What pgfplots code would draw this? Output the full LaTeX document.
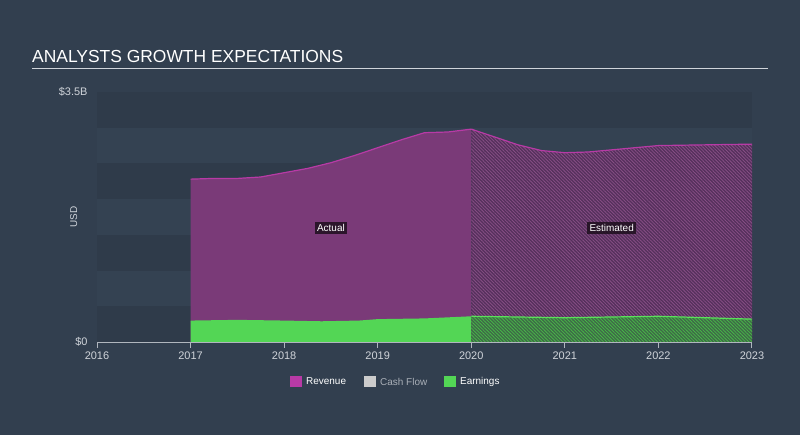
\documentclass[border=0pt]{standalone}
\usepackage{fontspec}
\setmainfont{Liberation Sans}
\usepackage{pgfplots}
\pgfplotsset{compat=1.18}
\usetikzlibrary{patterns.meta}

\definecolor{bg}{HTML}{323F4F}
\definecolor{bandD}{HTML}{2F3B4A}
\definecolor{bandL}{HTML}{344252}
\definecolor{txt}{HTML}{D0D4DA}
\definecolor{revline}{HTML}{B83AA6}
\definecolor{revfill}{HTML}{7A3A78}
\definecolor{revdark}{HTML}{55305C}
\definecolor{earnline}{HTML}{5BE05B}
\definecolor{earnfill}{HTML}{53D655}
\definecolor{earndark}{HTML}{3E6A47}
\definecolor{cashgray}{HTML}{CCCCCC}

\pgfplotstableread{
x      y
2017   2.28
2017.25 2.29
2017.5 2.29
2017.75 2.31
2018   2.37
2018.25 2.43
2018.5 2.51
2018.75 2.61
2019   2.72
2019.25 2.83
2019.5 2.93
2019.75 2.94
2020   2.98
}\revact
\pgfplotstableread{
x      y
2020   2.98
2020.25 2.87
2020.5 2.76
2020.75 2.68
2021   2.65
2021.25 2.66
2021.5 2.69
2021.75 2.72
2022   2.75
2022.5 2.76
2023   2.77
}\revest
\pgfplotstableread{
x      y
2017   0.30
2017.5 0.31
2018   0.30
2018.4 0.29
2018.8 0.30
2019   0.32
2019.5 0.33
2020   0.36
}\earnact
\pgfplotstableread{
x      y
2020   0.36
2020.5 0.35
2021   0.34
2021.5 0.35
2022   0.36
2022.5 0.34
2023   0.32
}\earnest

\begin{document}
\begin{tikzpicture}[x=1bp,y=1bp]
  \fill[bg] (0,0) rectangle (800,435);
  % title and rule
  \node[anchor=base west, text=white, font=\fontsize{17.5}{17.5}\selectfont, inner sep=0] at (32,372) {ANALYSTS GROWTH EXPECTATIONS};
  \draw[txt, line width=0.8pt] (32,367) -- (768,367);

  \begin{axis}[
      at={(97bp,93bp)}, anchor=origin,
      scale only axis,
      width=655bp, height=250bp,
      xmin=2016, xmax=2023,
      ymin=0, ymax=3.5,
      axis x line*=bottom,
      axis y line*=left,
      x axis line style={draw=txt!80!bg, line width=0.9pt, -},
      y axis line style={draw=none},
      xtick={2016,...,2023},
      xticklabels={2016,2017,2018,2019,2020,2021,2022,2023},
      ytick={0,3.5},
      yticklabels={\$0,\$3.5B},
      xtick style={draw=txt!80!bg, line width=0.9pt},
      ytick style={draw=none},
      tick align=outside,
      major tick length=6bp,
      x tick label style={text=txt, font=\fontsize{11}{11}\selectfont},
      y tick label style={text=txt, font=\fontsize{11}{11}\selectfont},
      ylabel={USD},
      ylabel style={text=txt, font=\fontsize{10}{10}\selectfont, at={(axis description cs:-0.025,0.5)}},
      axis on top,
      clip=false,
    ]
    % background bands
    \fill[bandD] (axis cs:2016,0) rectangle (axis cs:2023,0.5);
    \fill[bandL] (axis cs:2016,0.5) rectangle (axis cs:2023,1.0);
    \fill[bandD] (axis cs:2016,1.0) rectangle (axis cs:2023,1.5);
    \fill[bandL] (axis cs:2016,1.5) rectangle (axis cs:2023,2.0);
    \fill[bandD] (axis cs:2016,2.0) rectangle (axis cs:2023,2.5);
    \fill[bandL] (axis cs:2016,2.5) rectangle (axis cs:2023,3.0);
    \fill[bandD] (axis cs:2016,3.0) rectangle (axis cs:2023,3.5);

    % revenue actual
    \addplot[draw=none, fill=revfill] table {\revact} \closedcycle;
    \addplot[revline, line width=1.2pt] table {\revact};
    % revenue estimated
    \addplot[draw=none, fill=revdark] table {\revest} \closedcycle;
    \addplot[draw=none, pattern={Lines[angle=-45,distance=2.4pt,line width=0.8pt]}, pattern color=revfill!90!white] table {\revest} \closedcycle;
    \addplot[revline, line width=1.2pt] table {\revest};

    % earnings actual
    \addplot[draw=none, fill=earnfill] table {\earnact} \closedcycle;
    % earnings estimated
    \addplot[draw=none, fill=earndark] table {\earnest} \closedcycle;
    \addplot[draw=none, pattern={Lines[angle=-45,distance=2.4pt,line width=0.8pt]}, pattern color=earnfill!85!black] table {\earnest} \closedcycle;
    \addplot[earnline, line width=1.2pt] table {\earnest};

    % labels
    \node[fill=black!80!revfill, fill opacity=0.8, text opacity=1, text=white, font=\fontsize{10}{10}\selectfont, inner sep=2.5pt] at (axis cs:2018.5,1.6) {Actual};
    \node[fill=black!80!revfill, fill opacity=0.8, text opacity=1, text=white, font=\fontsize{10}{10}\selectfont, inner sep=2.5pt] at (axis cs:2021.5,1.6) {Estimated};
  \end{axis}

  % legend
  \begin{scope}[font=\fontsize{10}{10}\selectfont]
    \fill[revline] (290,48) rectangle (302,59);
    \node[anchor=west, text=white, inner sep=0] at (306,53.5) {Revenue};
    \fill[cashgray] (364,48) rectangle (376,59);
    \node[anchor=west, text=txt!75!bg, inner sep=0] at (380,53.5) {Cash Flow};
    \fill[earnfill] (444,48) rectangle (456,59);
    \node[anchor=west, text=white, inner sep=0] at (460,53.5) {Earnings};
  \end{scope}
\end{tikzpicture}
\end{document}
